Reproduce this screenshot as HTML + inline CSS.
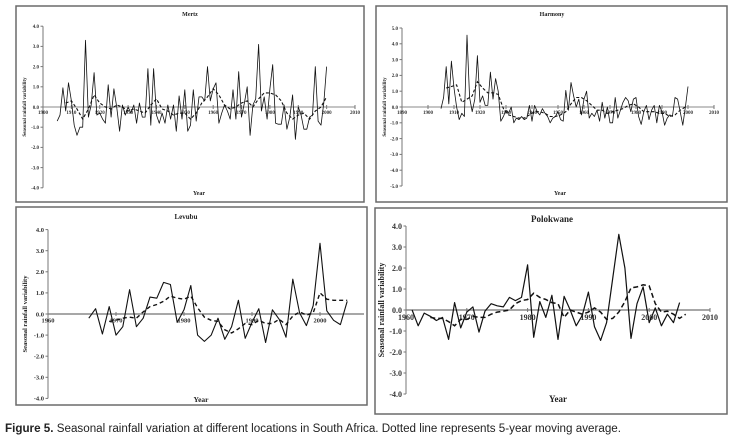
<!DOCTYPE html>
<html><head><meta charset="utf-8"><style>
body{margin:0;background:#fff;width:734px;height:440px;overflow:hidden}
svg{display:block}
</style></head><body>
<svg id="fig" width="734" height="440" xmlns="http://www.w3.org/2000/svg">
<text x="5" y="432" font-family="Liberation Sans, sans-serif" font-size="11.5" fill="#222" textLength="616" lengthAdjust="spacingAndGlyphs"><tspan font-weight="bold">Figure 5.</tspan> Seasonal rainfall variation at different locations in South Africa. Dotted line represents 5-year moving average.</text>
</svg>
<script>
// ---- data ----
const mertzStart = 1905;
const mertzValues = [-0.7,-0.4,0.95,-0.2,1.2,0.3,-0.9,-1.4,-1.0,-1.0,3.3,-0.5,0.1,1.7,-0.4,-0.3,-0.6,-0.8,1.1,-0.5,0.9,0.0,-1.2,0.1,-0.4,0.0,-0.3,0.1,-0.8,0.2,-0.5,-0.5,1.9,-0.9,1.9,-0.4,-0.8,-0.3,-0.8,0.1,-0.6,0.1,-1.2,0.55,-0.6,0.85,-1.2,-0.9,0.85,-0.7,0.5,0.5,0.3,2.0,0.3,0.9,1.2,-0.8,-0.3,0.1,-0.2,-0.6,0.85,-0.6,1.75,-0.5,0.2,1.0,-1.4,0.1,0.4,3.1,-0.2,0.5,-0.6,0.9,2.1,-0.8,-0.85,-0.85,0.1,-1.1,-0.5,0.6,-1.6,0.0,-0.4,-1.1,-1.1,-0.5,-0.4,2.0,-0.7,-0.9,0.2,2.0];
const mertzMaYears = [1908,1910,1912,1914,1916,1918,1920,1922,1924,1926,1928,1930,1932,1934,1936,1938,1940,1942,1944,1946,1948,1950,1952,1954,1956,1958,1960,1962,1964,1966,1968,1970,1972,1974,1976,1978,1980,1982,1984,1986,1988,1990,1992,1994,1996,1998,2000];
const mertzMa = [0.2,0.3,-0.1,-0.6,-0.1,0.6,0.2,0.0,-0.1,0.1,0.0,-0.2,-0.1,-0.2,-0.3,0.1,0.4,-0.1,-0.2,-0.4,-0.3,-0.3,-0.6,-0.3,0.2,0.5,0.9,0.6,0.1,-0.1,0.0,0.2,0.3,0.0,0.4,0.7,0.7,0.6,0.3,-0.3,-0.6,-0.4,-0.3,-0.6,-0.2,0.0,0.5];

const harmonyStart = 1905;
const harmonyValues = [-0.1,0.6,2.55,0.2,2.9,1.2,0.0,-0.8,-0.4,-0.6,4.55,0.6,-0.3,0.5,3.25,0.3,0.7,0.1,0.1,2.2,0.5,1.8,1.0,-0.9,-0.6,-0.2,-0.4,0.0,-1.0,-0.7,-0.8,-0.6,-0.8,-0.7,0.1,-0.9,0.1,-0.3,-0.5,-0.1,-0.4,-0.6,-1.0,-0.7,-0.6,-0.3,-0.8,-0.9,1.05,-0.2,1.55,0.7,0.0,0.5,-0.5,0.5,1.0,-0.7,-0.4,-0.6,-0.2,-0.9,0.3,-0.7,0.0,-1.0,-1.0,0.6,-0.7,-0.2,0.3,0.6,0.4,-0.3,0.5,0.6,-0.6,-1.1,-0.3,0.1,-0.8,-0.2,0.1,-1.0,0.1,-0.3,-1.15,-0.7,-0.5,-0.6,0.6,0.5,-0.3,-1.15,0.0,1.3];
const harmonyMaYears = [1907,1909,1911,1913,1915,1917,1919,1921,1923,1925,1927,1929,1931,1933,1935,1937,1939,1941,1943,1945,1947,1949,1951,1953,1955,1957,1959,1961,1963,1965,1967,1969,1971,1973,1975,1977,1979,1981,1983,1985,1987,1989,1991,1993,1995,1997,1999];
const harmonyMa = [1.2,1.3,1.4,0.3,0.5,0.7,1.6,1.2,0.9,0.9,0.8,-0.1,-0.5,-0.6,-0.7,-0.7,-0.5,-0.3,-0.3,-0.4,-0.6,-0.6,-0.5,-0.3,0.2,0.6,0.6,0.4,0.1,-0.2,-0.2,-0.4,-0.3,-0.2,-0.1,0.1,0.2,0.0,-0.3,-0.3,-0.3,-0.4,-0.4,-0.6,-0.5,-0.2,0.0];

const levubuStart = 1966;
const levubuValues = [-0.2,0.25,-0.95,0.35,-1.0,-0.6,1.15,-0.6,-0.2,0.8,0.75,1.5,1.4,-0.4,0.2,1.35,-1.0,-1.3,-1.0,-0.2,-1.2,-0.6,0.65,-1.15,-0.4,0.25,-1.35,0.2,-0.25,-1.1,1.65,0.05,-0.55,0.4,3.35,0.15,-0.3,-0.5,0.6];
const levubuMaStart = 1969;
const levubuMa = [-0.35,-0.3,-0.2,-0.15,-0.2,0.1,0.35,0.45,0.6,0.85,0.75,0.7,0.85,0.3,-0.15,-0.3,-0.35,-0.75,-0.9,-0.7,-0.45,-0.5,-0.3,-0.45,-0.45,-0.25,-0.5,-0.1,0.1,-0.05,0.05,1.0,0.7,0.65,0.65,0.65];

const polokwaneStart = 1961;
const polokwaneValues = [0.0,-0.75,-0.15,-0.3,-0.5,-0.35,-1.4,0.35,-0.85,-0.1,0.15,-1.05,-0.05,0.3,0.2,0.15,0.6,0.45,0.6,2.15,-1.3,0.4,-0.35,0.7,-1.4,0.65,0.0,-0.75,-0.25,0.85,-0.8,-1.45,-0.6,1.5,3.6,2.0,-1.35,0.3,1.1,-0.6,0.1,-0.75,-0.2,-0.6,0.35];
const polokwaneMaStart = 1964;
const polokwaneMa = [-0.35,-0.4,-0.4,-0.55,-0.75,-0.45,-0.45,-0.3,-0.35,-0.35,-0.2,-0.1,-0.05,0.0,0.3,0.45,0.5,0.8,0.6,0.5,0.35,0.3,-0.35,0.0,-0.1,-0.2,-0.1,0.1,-0.1,-0.45,-0.4,-0.1,0.4,1.05,1.1,1.2,1.15,0.3,-0.1,-0.05,-0.2,-0.4,-0.2];

const mertzXTicks = [1900,1910,1920,1930,1940,1950,1960,1970,1980,1990,2000,2010];
const harmonyXTicks = [1890,1900,1910,1920,1930,1940,1950,1960,1970,1980,1990,2000,2010];
const levubuXTicks = [1960,1970,1980,1990,2000];
const polokwaneXTicks = [1960,1970,1980,1990,2000,2010];
const yTicks4 = [4,3,2,1,0,-1,-2,-3,-4];
const yTicks5 = [5,4,3,2,1,0,-1,-2,-3,-4,-5];

// ---- drawing ----
const NS = 'http://www.w3.org/2000/svg';
const svg = document.getElementById('fig');
function mk(tag, attrs, parent){const e=document.createElementNS(NS,tag);for(const k in attrs)e.setAttribute(k,attrs[k]);(parent||svg).appendChild(e);return e;}
function yearsFrom(start, n){const a=[];for(let i=0;i<n;i++)a.push(start+i);return a;}

function panel(p){
  const g = mk('g',{});
  
  
  const box = mk('rect',{x:p.box[0],y:p.box[1],width:p.box[2],height:p.box[3],fill:'#fff',stroke:'#6a6a6a','stroke-width':1.5},g);
  
  
  const xs = v => p.x0 + (v - p.xmin) * (p.x1 - p.x0) / (p.xmax - p.xmin);
  const ys = v => p.y0 - v * p.yUnit;
  const fs = p.fs;
  const yTop = ys(p.yTicks[0]), yBot = ys(p.yTicks[p.yTicks.length-1]);
  const ya = mk('line',{x1:p.x0,y1:yTop,x2:p.x0,y2:yBot,stroke:'#777','stroke-width':1},g);
  
  
  p.yTicks.forEach(t=>{
    mk('line',{x1:p.x0-2.5,y1:ys(t),x2:p.x0,y2:ys(t),stroke:'#777'},g);
    const tx = mk('text',{x:p.x0-4,y:ys(t)+fs*0.35,'text-anchor':'end','font-size':fs,'font-family':'Liberation Serif, serif','font-weight':'bold',fill:'#333'},g);
    tx.textContent = t.toFixed(1);
    
    
  });
  const xa = mk('line',{x1:p.x0,y1:p.y0,x2:p.axEnd,y2:p.y0,stroke:'#8a8a8a','stroke-width':p.axW},g);
  
  
  p.xTicks.forEach(t=>{
    mk('line',{x1:xs(t),y1:p.y0-2,x2:xs(t),y2:p.y0+2,stroke:'#777'},g);
    const tx = mk('text',{x:xs(t),y:p.y0+fs+2,'text-anchor':'middle','font-size':fs,'font-family':'Liberation Serif, serif','font-weight':'bold',fill:'#333'},g);
    tx.textContent = t;
    
    
  });
  const yrs = yearsFrom(p.start, p.values.length);
  const solid = mk('polyline',{points:yrs.map((y,i)=>xs(y).toFixed(1)+','+ys(p.values[i]).toFixed(1)).join(' '),fill:'none',stroke:'#111','stroke-width':p.lw,'stroke-linejoin':'round'},g);
  
  
  const dash = mk('polyline',{points:p.maYears.map((y,i)=>xs(y).toFixed(1)+','+ys(p.ma[i]).toFixed(1)).join(' '),fill:'none',stroke:'#111','stroke-width':p.lw+0.3,'stroke-dasharray':p.dash},g);
  
  
  const ti = mk('text',{x:p.title[0],y:p.title[1],'text-anchor':'middle','font-size':p.tfs,'font-family':'Liberation Serif, serif','font-weight':'bold',fill:'#222'},g);
  ti.textContent = p.label;
  
  
  const xt = mk('text',{x:p.xTitle[0],y:p.xTitle[1],'text-anchor':'middle','font-size':fs+1,'font-family':'Liberation Serif, serif','font-weight':'bold',fill:'#222'},g);
  xt.textContent = 'Year';
  
  
  const yt = mk('text',{x:0,y:0,transform:'translate('+p.yTitle[0]+','+p.yTitle[1]+') rotate(-90)','text-anchor':'middle','font-size':fs,'font-family':'Liberation Serif, serif','font-weight':'bold',fill:'#222'},g);
  yt.textContent = 'Seasonal rainfall variability';
  
  
}

panel({name:'mertz',label:'Mertz',box:[16,6,348,196],x0:43,x1:355,xmin:1900,xmax:2010,axEnd:355,y0:107,yUnit:20.2,
  yTicks:yTicks4,xTicks:mertzXTicks,start:mertzStart,values:mertzValues,maYears:mertzMaYears,ma:mertzMa,
  fs:5,tfs:6,lw:0.8,axW:1,dash:'3,2',title:[190,16],xTitle:[199,195],yTitle:[26,107]});
panel({name:'harmony',label:'Harmony',box:[376,6,351,196],x0:402,x1:714,xmin:1890,xmax:2010,axEnd:714,y0:107,yUnit:15.8,
  yTicks:yTicks5,xTicks:harmonyXTicks,start:harmonyStart,values:harmonyValues,maYears:harmonyMaYears,ma:harmonyMa,
  fs:5,tfs:6,lw:0.8,axW:1,dash:'3,2',title:[552,16],xTitle:[560,195],yTitle:[386,107]});
panel({name:'levubu',label:'Levubu',box:[16,207,351,198],x0:48,x1:320,xmin:1960,xmax:2000,axEnd:364,y0:314,yUnit:21.1,
  yTicks:yTicks4,xTicks:levubuXTicks,start:levubuStart,values:levubuValues,maYears:yearsFrom(levubuMaStart,levubuMa.length),ma:levubuMa,
  fs:6.5,tfs:7,lw:1.1,axW:1.6,dash:'4,3',title:[186,219],xTitle:[201,402],yTitle:[27,314]});
panel({name:'polokwane',label:'Polokwane',box:[375,208,352,206],x0:406,x1:710,xmin:1960,xmax:2010,axEnd:710,y0:310,yUnit:21,
  yTicks:yTicks4,xTicks:polokwaneXTicks,start:polokwaneStart,values:polokwaneValues,maYears:yearsFrom(polokwaneMaStart,polokwaneMa.length),ma:polokwaneMa,
  fs:8,tfs:9,lw:1.2,axW:1.6,dash:'5,3',title:[552,222],xTitle:[558,402],yTitle:[384,310]});
</script>
</body></html>
